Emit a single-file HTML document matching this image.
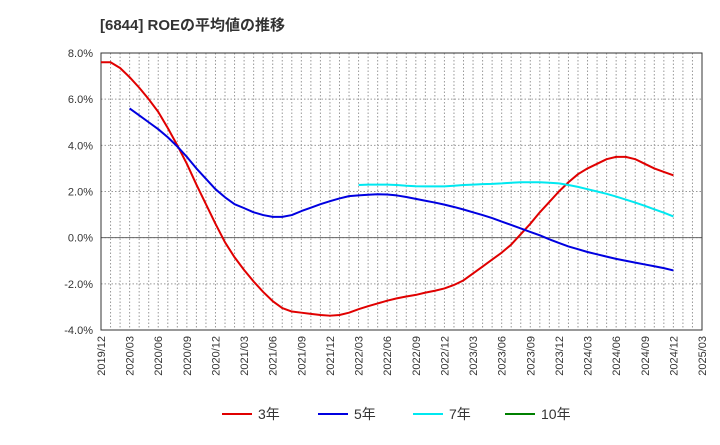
<!DOCTYPE html>
<html><head><meta charset="utf-8"><style>
body{margin:0;background:#fff;font-family:"Liberation Sans","Noto Sans CJK JP",sans-serif}
</style></head><body>
<svg id="c" width="720" height="440" xmlns="http://www.w3.org/2000/svg">
<text x="100" y="30" font-size="15" font-weight="bold" fill="#333" font-family="Liberation Sans, Noto Sans CJK JP, sans-serif">[6844]  ROEの平均値の推移</text>
<g id="grid"></g><g id="axes"></g><g id="series"></g>
<g id="legend"></g>
</svg>
<script>
const yTicks=[8,6,4,2,0,-2,-4];
const xLabels=["2019/12","2020/03","2020/06","2020/09","2020/12","2021/03","2021/06","2021/09","2021/12","2022/03","2022/06","2022/09","2022/12","2023/03","2023/06","2023/09","2023/12","2024/03","2024/06","2024/09","2024/12","2025/03"];
const roe3Start=0;
const roe3=[7.6,7.6,7.35,6.95,6.5,6.0,5.45,4.75,4.0,3.2,2.3,1.45,0.6,-0.2,-0.85,-1.4,-1.9,-2.35,-2.75,-3.05,-3.2,-3.25,-3.3,-3.35,-3.38,-3.35,-3.25,-3.1,-2.97,-2.85,-2.73,-2.63,-2.55,-2.48,-2.38,-2.3,-2.2,-2.05,-1.85,-1.55,-1.25,-0.95,-0.65,-0.3,0.15,0.6,1.1,1.55,2.0,2.4,2.75,3.0,3.2,3.4,3.5,3.5,3.4,3.2,3.0,2.85,2.7];
const roe5Start=3;
const roe5=[5.6,5.3,5.0,4.7,4.35,3.95,3.5,3.0,2.55,2.1,1.75,1.45,1.28,1.1,0.98,0.9,0.9,0.98,1.15,1.3,1.45,1.58,1.7,1.8,1.83,1.86,1.88,1.87,1.83,1.76,1.68,1.6,1.52,1.43,1.33,1.22,1.1,0.98,0.85,0.7,0.55,0.4,0.25,0.1,-0.07,-0.23,-0.38,-0.5,-0.62,-0.72,-0.82,-0.92,-1.0,-1.08,-1.16,-1.24,-1.32,-1.42];
const roe7Start=27;
const roe7=[2.28,2.3,2.3,2.3,2.28,2.25,2.23,2.22,2.22,2.22,2.25,2.28,2.3,2.32,2.33,2.35,2.38,2.4,2.4,2.4,2.38,2.35,2.28,2.2,2.1,2.0,1.9,1.78,1.65,1.52,1.38,1.23,1.08,0.92];
const roe10=[];
const L=101,R=702,T=53,B=330,NM=63;
const xs=m=>L+(R-L)*m/NM;
const ys=v=>T+(B-T)*(8-v)/12;
const NS="http://www.w3.org/2000/svg";
function mk(tag,attrs,parent){const e=document.createElementNS(NS,tag);for(const k in attrs)e.setAttribute(k,attrs[k]);parent.appendChild(e);return e;}
const grid=document.getElementById('grid'),axes=document.getElementById('axes'),ser=document.getElementById('series'),leg=document.getElementById('legend');
for(let m=1;m<NM;m++){const g=mk('line',{x1:xs(m),x2:xs(m),y1:T,y2:B,stroke:'#999','stroke-dasharray':'1.5,2','stroke-width':1},grid);

}
yTicks.forEach(v=>{const g=mk('line',{x1:L,x2:R,y1:ys(v),y2:ys(v),stroke:'#999','stroke-dasharray':'1.5,2','stroke-width':1},grid);


const t=mk('text',{x:L-8,y:ys(v)+4,'text-anchor':'end','font-size':11,fill:'#333'},axes);t.textContent=v.toFixed(1)+'%';

});
const zl=mk('line',{x1:L,x2:R,y1:ys(0),y2:ys(0),stroke:'#666','stroke-width':1},grid);


const fr=mk('rect',{x:L,y:T,width:R-L,height:B-T,fill:'none',stroke:'#333','stroke-width':1},axes);


xLabels.forEach((s,i)=>{const x=xs(i*3)+4,y=B+6;const t=mk('text',{x:x,y:y,'text-anchor':'end','font-size':11,fill:'#333',transform:`rotate(-90 ${x} ${y})`},axes);t.textContent=s;

});
function line(arr,start,color,name){if(!arr.length)return;const p=mk('polyline',{points:arr.map((v,i)=>xs(start+i)+','+ys(v)).join(' '),fill:'none',stroke:color,'stroke-width':2,'stroke-linejoin':'round'},ser);

}
line(roe3,roe3Start,'#e00000','series-3y');
line(roe5,roe5Start,'#0000e0','series-5y');
line(roe7,roe7Start,'#00e8f0','series-7y');
line(roe10,0,'#008000','series-10y');
const items=[["3年","#e00000",222],["5年","#0000e0",318],["7年","#00e8f0",413],["10年","#008000",505]];
items.forEach(([lab,c,x])=>{const g=mk('g',{},leg);


mk('line',{x1:x,x2:x+30,y1:414,y2:414,stroke:c,'stroke-width':2},g);
const t=mk('text',{x:x+36,y:419,'font-size':14,fill:'#333'},g);t.textContent=lab;});
</script>
</body></html>
